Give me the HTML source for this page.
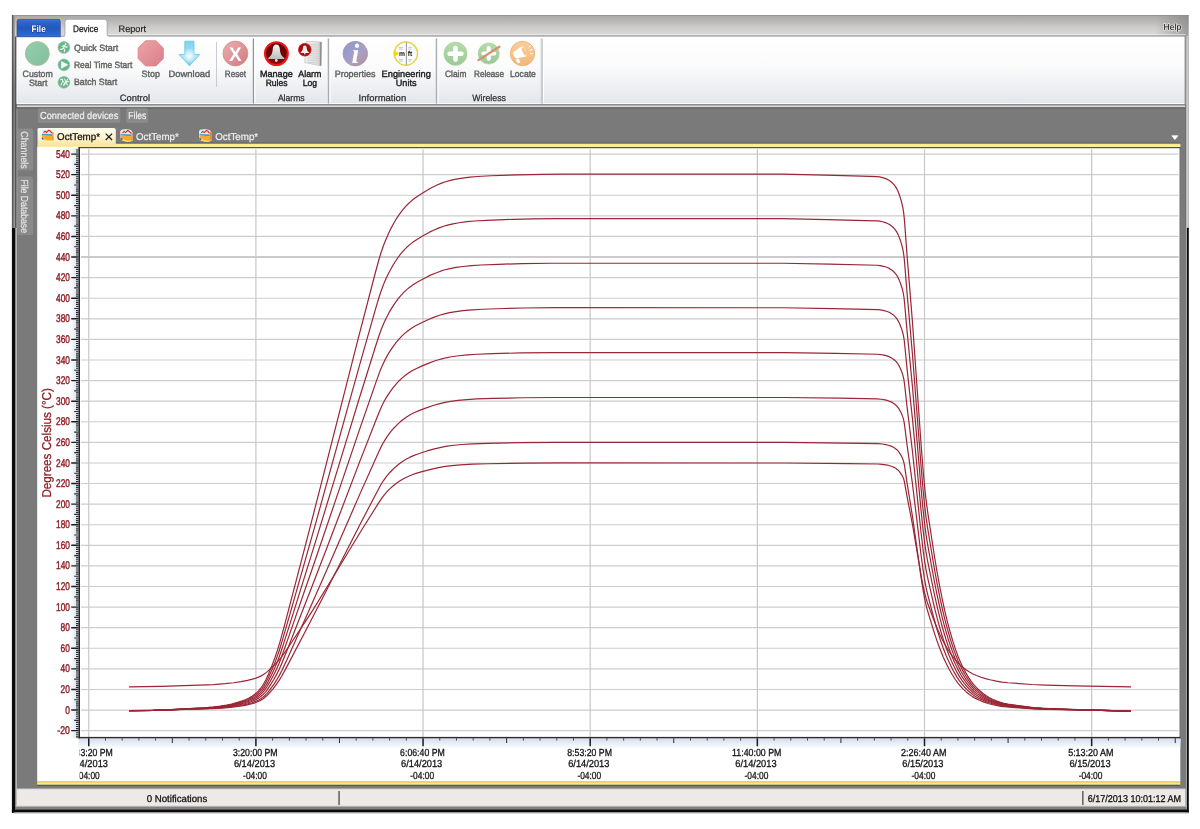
<!DOCTYPE html>
<html lang="en">
<head>
<meta charset="utf-8">
<title>OctTemp - Device</title>
<style>
html,body{margin:0;padding:0;background:#fff;}
body{width:1200px;height:829px;overflow:hidden;font-family:'Liberation Sans', sans-serif;}
svg{display:block;}
svg text{font-family:'Liberation Sans', sans-serif;text-rendering:geometricPrecision;}
</style>
</head>
<body>
<svg width="1200" height="829" viewBox="0 0 1200 829">
<defs>
<linearGradient id="gTitle" x1="0" y1="0" x2="0" y2="1"><stop offset="0" stop-color="#a9a7a5"/><stop offset="0.55" stop-color="#cfcdcb"/><stop offset="1" stop-color="#e3e1df"/></linearGradient>
<linearGradient id="gTitleR" x1="0" y1="0" x2="1" y2="0"><stop offset="0" stop-color="#8a8886" stop-opacity="0"/><stop offset="1" stop-color="#8a8886" stop-opacity="0.75"/></linearGradient>
<linearGradient id="gRibbon" x1="0" y1="0" x2="0" y2="1"><stop offset="0" stop-color="#ffffff"/><stop offset="0.45" stop-color="#fbfbfc"/><stop offset="1" stop-color="#e3e6eb"/></linearGradient>
<linearGradient id="gFile" x1="0" y1="0" x2="0" y2="1"><stop offset="0" stop-color="#3f7fe6"/><stop offset="0.12" stop-color="#2e69cf"/><stop offset="0.5" stop-color="#2258bb"/><stop offset="0.85" stop-color="#2a66cf"/><stop offset="1" stop-color="#2f72e0"/></linearGradient>
<linearGradient id="gFrameL" x1="0" y1="0" x2="1" y2="0"><stop offset="0" stop-color="#3e3e3e"/><stop offset="0.35" stop-color="#7c7a78"/><stop offset="1" stop-color="#aeacaa"/></linearGradient>
<linearGradient id="gFrameLV" x1="0" y1="0" x2="0" y2="1"><stop offset="0" stop-color="#000" stop-opacity="0"/><stop offset="0.3" stop-color="#000" stop-opacity="0.2"/><stop offset="1" stop-color="#000" stop-opacity="0.05"/></linearGradient>
<linearGradient id="gFrameR" x1="0" y1="0" x2="1" y2="0"><stop offset="0" stop-color="#e4e4e4"/><stop offset="0.6" stop-color="#c6c4c2"/><stop offset="1" stop-color="#a4a2a0"/></linearGradient>
<linearGradient id="gFrameLfade" x1="0" y1="0" x2="0" y2="1"><stop offset="0" stop-color="#0c0c0c" stop-opacity="0"/><stop offset="1" stop-color="#0c0c0c" stop-opacity="1"/></linearGradient>
<linearGradient id="gDocTab" x1="0" y1="0" x2="0" y2="1"><stop offset="0" stop-color="#fffdf2"/><stop offset="0.5" stop-color="#fdf3cf"/><stop offset="1" stop-color="#fbe296"/></linearGradient>
<linearGradient id="gAxisL" x1="0" y1="0" x2="1" y2="0"><stop offset="0" stop-color="#dfe5f2" stop-opacity="0"/><stop offset="1" stop-color="#cfd8ec" stop-opacity="1"/></linearGradient>
<linearGradient id="gAxisB" x1="0" y1="0" x2="0" y2="1"><stop offset="0" stop-color="#d3dbee" stop-opacity="1"/><stop offset="1" stop-color="#dfe5f2" stop-opacity="0"/></linearGradient>
<linearGradient id="gGreen" x1="0" y1="0" x2="1" y2="1"><stop offset="0" stop-color="#8fd0ab"/><stop offset="1" stop-color="#86bd9c"/></linearGradient>
<linearGradient id="gStop" x1="0" y1="0" x2="1" y2="1"><stop offset="0" stop-color="#eda3a8"/><stop offset="1" stop-color="#d97f88"/></linearGradient>
<linearGradient id="gReset" x1="0" y1="0" x2="1" y2="1"><stop offset="0" stop-color="#eeb0b2"/><stop offset="1" stop-color="#cf7980"/></linearGradient>
<linearGradient id="gDown" x1="0" y1="0" x2="0" y2="1"><stop offset="0" stop-color="#7fd3ee"/><stop offset="0.6" stop-color="#a8e3f6"/><stop offset="1" stop-color="#5cc3e8"/></linearGradient>
<radialGradient id="gDownGlow" cx="0.5" cy="0.62" r="0.35"><stop offset="0" stop-color="#ffffff" stop-opacity="0.95"/><stop offset="1" stop-color="#ffffff" stop-opacity="0"/></radialGradient>
<linearGradient id="gProp" x1="0" y1="0" x2="1" y2="1"><stop offset="0" stop-color="#8b98d2"/><stop offset="0.6" stop-color="#a7a0c4"/><stop offset="1" stop-color="#b98f96"/></linearGradient>
<linearGradient id="gBell" x1="0" y1="0" x2="0" y2="1"><stop offset="0" stop-color="#f4f4f4"/><stop offset="1" stop-color="#bdbdbd"/></linearGradient>
<linearGradient id="gAlarmBg" x1="0" y1="0" x2="0" y2="1"><stop offset="0" stop-color="#5a0000"/><stop offset="1" stop-color="#8a0a0a"/></linearGradient>
<linearGradient id="gDoc" x1="0" y1="0" x2="1" y2="0"><stop offset="0" stop-color="#f2f2f2"/><stop offset="0.8" stop-color="#e0e0e0"/><stop offset="1" stop-color="#9a9a9a"/></linearGradient>
<linearGradient id="gClaim" x1="0" y1="0" x2="0" y2="1"><stop offset="0" stop-color="#b4dca8"/><stop offset="1" stop-color="#9cc898"/></linearGradient>
<linearGradient id="gLocate" x1="0" y1="0" x2="0" y2="1"><stop offset="0" stop-color="#f8cf9c"/><stop offset="1" stop-color="#f2b878"/></linearGradient>
<clipPath id="clipX"><rect x="79.7" y="738" width="1102" height="44"/></clipPath>
<clipPath id="clipPlot"><rect x="79.8" y="148.3" width="1099.6" height="589"/></clipPath>
</defs>
<rect x="0" y="0" width="1200" height="829" fill="#ffffff"/>
<rect x="12.0" y="15.0" width="1176.6" height="24" fill="url(#gTitle)"/>
<rect x="1155" y="15.0" width="33.59999999999991" height="21.5" fill="url(#gTitleR)"/>
<rect x="107" y="34.3" width="1078.5" height="1.1" fill="#f2f1f0" opacity="0.9"/>
<rect x="12.0" y="15.0" width="1176.6" height="1" fill="#8e8c8a" opacity="0.7"/>
<rect x="16" y="104" width="1170" height="706" fill="#7a7a7a"/>
<rect x="16.5" y="36.3" width="1169" height="67.7" fill="url(#gRibbon)"/>
<rect x="106.5" y="35.4" width="1079.5" height="1.1" fill="#8d9096"/>
<rect x="16.5" y="35.9" width="49" height="1" fill="#8d9096"/>
<rect x="16.5" y="103.0" width="1169" height="1.2" fill="#fbfbfb"/>
<rect x="16.5" y="104.2" width="1169" height="1.3" fill="#8e8e8e"/>
<rect x="16.5" y="105.5" width="1169" height="1.7" fill="#dcdcdc"/>
<rect x="16.5" y="107.2" width="1169" height="1.6" fill="#696969"/>
<rect x="1184.6" y="36" width="0.9" height="68" fill="#8a8e94"/>
<rect x="253.00" y="38.5" width="1.1" height="65" fill="#8d9198"/>
<rect x="254.20" y="38.5" width="1.2" height="65" fill="#ffffff"/>
<rect x="251.80" y="38.5" width="1.2" height="65" fill="#dcdfe4" opacity="0.8"/>
<rect x="328.20" y="38.5" width="1.1" height="65" fill="#8d9198"/>
<rect x="329.40" y="38.5" width="1.2" height="65" fill="#ffffff"/>
<rect x="327.00" y="38.5" width="1.2" height="65" fill="#dcdfe4" opacity="0.8"/>
<rect x="436.20" y="38.5" width="1.1" height="65" fill="#8d9198"/>
<rect x="437.40" y="38.5" width="1.2" height="65" fill="#ffffff"/>
<rect x="435.00" y="38.5" width="1.2" height="65" fill="#dcdfe4" opacity="0.8"/>
<rect x="541.50" y="38.5" width="1.1" height="65" fill="#8d9198"/>
<rect x="542.70" y="38.5" width="1.2" height="65" fill="#ffffff"/>
<rect x="540.30" y="38.5" width="1.2" height="65" fill="#dcdfe4" opacity="0.8"/>
<rect x="216" y="42" width="0.9" height="45" fill="#c3c7cd"/>
<path d="M16.8,36.8 V21.3 Q16.8,19 19.1,19 H58.2 Q60.5,19 60.5,21.3 V36.8 Z" fill="url(#gFile)" stroke="#1b3f97" stroke-width="0.6"/>
<path d="M16.3,36.8 V21 Q16.3,18.4 19,18.4 H58.4 Q61.1,18.4 61.1,21 V36.8" fill="none" stroke="#e6cf9a" stroke-width="0.5" opacity="0.9"/>
<text x="31.60" y="32.00" font-size="9.4" textLength="14.10" lengthAdjust="spacingAndGlyphs" font-weight="bold" fill="#ffffff" stroke="#16348f" stroke-width="1.3" stroke-opacity="0.7" stroke-linejoin="round" paint-order="stroke">File</text>
<path d="M62.2,36.6 H64 Q65.2,36.6 65.2,35 V22 Q65.2,19.5 67.7,19.5 H104.4 Q106.9,19.5 106.9,22 V34.8 Q106.9,36.2 108.4,36.2 V37.2 H62.2 Z" fill="#ffffff"/>
<path d="M62.2,36.1 H63.8 Q64.9,36.1 64.9,34.8 V22 Q64.9,19.2 67.7,19.2 H104.4 Q107.2,19.2 107.2,22 V34.5 Q107.2,35.9 108.6,35.9" fill="none" stroke="#9fa3a8" stroke-width="0.8"/>
<text x="73.00" y="32.00" font-size="9.4" textLength="25.30" lengthAdjust="spacingAndGlyphs" fill="#1a1a1a" stroke="#1a1a1a" stroke-width="0.25">Device</text>
<text x="118.50" y="32.00" font-size="9.4" textLength="27.60" lengthAdjust="spacingAndGlyphs" fill="#1a1a1a" stroke="#1a1a1a" stroke-width="0.15">Report</text>
<text x="1163.50" y="29.80" font-size="8.9" textLength="17.80" lengthAdjust="spacingAndGlyphs" fill="#111" stroke="#ffffff" stroke-width="1.6" stroke-opacity="0.55" stroke-linejoin="round" paint-order="stroke">Help</text>
<text x="22.60" y="76.50" font-size="9.2" textLength="30.10" lengthAdjust="spacingAndGlyphs" fill="#5f5f5f" stroke="#5f5f5f" stroke-width="0.4">Custom</text>
<text x="28.90" y="85.60" font-size="9.2" textLength="18.50" lengthAdjust="spacingAndGlyphs" fill="#5f5f5f" stroke="#5f5f5f" stroke-width="0.4">Start</text>
<text x="74.00" y="50.80" font-size="9.2" textLength="44.20" lengthAdjust="spacingAndGlyphs" fill="#5f5f5f" stroke="#5f5f5f" stroke-width="0.4">Quick Start</text>
<text x="74.00" y="68.00" font-size="9.2" textLength="58.40" lengthAdjust="spacingAndGlyphs" fill="#5f5f5f" stroke="#5f5f5f" stroke-width="0.4">Real Time Start</text>
<text x="74.00" y="85.35" font-size="9.2" textLength="43.30" lengthAdjust="spacingAndGlyphs" fill="#5f5f5f" stroke="#5f5f5f" stroke-width="0.4">Batch Start</text>
<text x="141.60" y="76.50" font-size="9.2" textLength="18.40" lengthAdjust="spacingAndGlyphs" fill="#5f5f5f" stroke="#5f5f5f" stroke-width="0.4">Stop</text>
<text x="168.60" y="76.50" font-size="9.2" textLength="41.70" lengthAdjust="spacingAndGlyphs" fill="#5f5f5f" stroke="#5f5f5f" stroke-width="0.4">Download</text>
<text x="224.80" y="76.50" font-size="9.2" textLength="21.20" lengthAdjust="spacingAndGlyphs" fill="#5f5f5f" stroke="#5f5f5f" stroke-width="0.4">Reset</text>
<text x="260.00" y="76.50" font-size="9.2" textLength="32.70" lengthAdjust="spacingAndGlyphs" fill="#1c1c1c" stroke="#1c1c1c" stroke-width="0.4">Manage</text>
<text x="265.70" y="85.60" font-size="9.2" textLength="21.70" lengthAdjust="spacingAndGlyphs" fill="#1c1c1c" stroke="#1c1c1c" stroke-width="0.4">Rules</text>
<text x="298.30" y="76.50" font-size="9.2" textLength="23.00" lengthAdjust="spacingAndGlyphs" fill="#1c1c1c" stroke="#1c1c1c" stroke-width="0.4">Alarm</text>
<text x="302.70" y="85.60" font-size="9.2" textLength="14.50" lengthAdjust="spacingAndGlyphs" fill="#1c1c1c" stroke="#1c1c1c" stroke-width="0.4">Log</text>
<text x="334.70" y="76.50" font-size="9.2" textLength="40.80" lengthAdjust="spacingAndGlyphs" fill="#5f5f5f" stroke="#5f5f5f" stroke-width="0.4">Properties</text>
<text x="381.60" y="76.50" font-size="9.2" textLength="49.30" lengthAdjust="spacingAndGlyphs" fill="#1c1c1c" stroke="#1c1c1c" stroke-width="0.4">Engineering</text>
<text x="395.80" y="85.60" font-size="9.2" textLength="20.70" lengthAdjust="spacingAndGlyphs" fill="#1c1c1c" stroke="#1c1c1c" stroke-width="0.4">Units</text>
<text x="445.00" y="76.50" font-size="9.2" textLength="21.40" lengthAdjust="spacingAndGlyphs" fill="#5f5f5f" stroke="#5f5f5f" stroke-width="0.4">Claim</text>
<text x="474.00" y="76.50" font-size="9.2" textLength="30.00" lengthAdjust="spacingAndGlyphs" fill="#5f5f5f" stroke="#5f5f5f" stroke-width="0.4">Release</text>
<text x="510.10" y="76.50" font-size="9.2" textLength="25.70" lengthAdjust="spacingAndGlyphs" fill="#5f5f5f" stroke="#5f5f5f" stroke-width="0.4">Locate</text>
<text x="119.80" y="101.00" font-size="9.2" textLength="30.20" lengthAdjust="spacingAndGlyphs" fill="#2e2e2e" stroke="#2e2e2e" stroke-width="0.25">Control</text>
<text x="277.90" y="101.00" font-size="9.2" textLength="26.70" lengthAdjust="spacingAndGlyphs" fill="#2e2e2e" stroke="#2e2e2e" stroke-width="0.25">Alarms</text>
<text x="358.60" y="101.00" font-size="9.2" textLength="47.60" lengthAdjust="spacingAndGlyphs" fill="#2e2e2e" stroke="#2e2e2e" stroke-width="0.25">Information</text>
<text x="472.30" y="101.00" font-size="9.2" textLength="33.70" lengthAdjust="spacingAndGlyphs" fill="#2e2e2e" stroke="#2e2e2e" stroke-width="0.25">Wireless</text>
<circle cx="37.3" cy="53.6" r="12.0" fill="url(#gGreen)" stroke="#a9b896" stroke-width="0.7"/>
<circle cx="63.9" cy="47.5" r="5.9" fill="#69b58a" stroke="#8cc7a2" stroke-width="0.7"/>
<circle cx="63.9" cy="64.85" r="5.9" fill="#69b58a" stroke="#8cc7a2" stroke-width="0.7"/>
<circle cx="63.9" cy="82.3" r="5.9" fill="#69b58a" stroke="#8cc7a2" stroke-width="0.7"/>
<g fill="none" stroke="#ffffff" stroke-width="1.1" stroke-linecap="round" stroke-linejoin="round"><circle cx="65.6" cy="44.2" r="0.9" fill="#fff" stroke="none"/><path d="M64.9,45.8 L63.4,48.2 L64.8,49.8 L64.2,51.8"/><path d="M63.4,48.2 L61.6,49.4 L60.4,49.2"/><path d="M62.2,46.2 L64.3,45.6 L66.2,47.2 L67.3,46.8"/></g>
<path d="M61.4,61.4 L67.9,64.85 L61.4,68.3 Z" fill="#ffffff" stroke="#ffffff" stroke-width="0.5" stroke-linejoin="round"/>
<g fill="none" stroke="#ffffff" stroke-width="1.0" stroke-linecap="round" stroke-linejoin="round" opacity="0.95"><path d="M60.6,79.6 L62.4,79 L62.8,81 L61,85.2"/><path d="M62.8,81 L64.6,83 L63.4,85.4"/><path d="M64.6,79 L67.4,85"/><path d="M67.6,79.2 L64.4,85.2"/><path d="M66.2,82 L68.4,81.6"/></g>
<polygon points="145.53,40.70 155.97,40.70 163.35,48.08 163.35,58.52 155.97,65.90 145.53,65.90 138.15,58.52 138.15,48.08" fill="url(#gStop)" stroke="#e17c88" stroke-width="0.8" stroke-linejoin="round"/>
<path d="M184.8,41.2 H194 V54.5 H199.8 L189.45,65.8 L179,54.5 H184.8 Z" fill="url(#gDown)" stroke="#62c8ea" stroke-width="0.8" stroke-linejoin="round"/>
<path d="M184.8,41.2 H194 V54.5 H199.8 L189.45,65.8 L179,54.5 H184.8 Z" fill="url(#gDownGlow)"/>
<circle cx="235.4" cy="53.5" r="12.4" fill="url(#gReset)" stroke="#cf8a80" stroke-width="0.8"/>
<text x="235.30" y="60.90" font-size="19.5" text-anchor="middle" textLength="12.60" lengthAdjust="spacingAndGlyphs" font-weight="bold" fill="#ffffff">X</text>
<circle cx="276.4" cy="53.6" r="11.4" fill="url(#gAlarmBg)" stroke="#f01414" stroke-width="2.1"/>
<path d="M276.3,44.6 C278.6,44.6 279.6,46.3 279.8,48.6 C280.1,52.6 280.6,55.6 284.3,58.1 V58.9 H268.3 V58.1 C272,55.6 272.5,52.6 272.8,48.6 C273,46.3 274,44.6 276.3,44.6 Z" fill="url(#gBell)"/>
<circle cx="276.3" cy="60.4" r="1.35" fill="#f2f2f2"/>
<path d="M306,41.4 L321.6,42 L321.2,65.8 L304.8,62.6 Z" fill="url(#gDoc)" stroke="#b4b4b4" stroke-width="0.6" stroke-linejoin="round"/>
<path d="M307.2,44.20 L319.6,45.10" stroke="#c6c6c6" stroke-width="0.7" fill="none"/>
<path d="M307.2,46.45 L319.6,47.35" stroke="#c6c6c6" stroke-width="0.7" fill="none"/>
<path d="M307.2,48.70 L319.6,49.60" stroke="#c6c6c6" stroke-width="0.7" fill="none"/>
<path d="M307.2,50.95 L319.6,51.85" stroke="#c6c6c6" stroke-width="0.7" fill="none"/>
<path d="M307.2,53.20 L319.6,54.10" stroke="#c6c6c6" stroke-width="0.7" fill="none"/>
<path d="M307.2,55.45 L319.6,56.35" stroke="#c6c6c6" stroke-width="0.7" fill="none"/>
<path d="M307.2,57.70 L319.6,58.60" stroke="#c6c6c6" stroke-width="0.7" fill="none"/>
<path d="M307.2,59.95 L319.6,60.85" stroke="#c6c6c6" stroke-width="0.7" fill="none"/>
<path d="M307.2,62.20 L319.6,63.10" stroke="#c6c6c6" stroke-width="0.7" fill="none"/>
<path d="M320.9,42.2 L320.5,65.4" stroke="#8a8a8a" stroke-width="1.1" fill="none"/>
<circle cx="304.8" cy="49.7" r="6.3" fill="#a80c0c" stroke="#c81818" stroke-width="0.8"/>
<path d="M304.8,45.4 C306,45.4 306.5,46.3 306.6,47.5 C306.8,49.6 307,51 308.9,52.3 V52.9 H300.7 V52.3 C302.6,51 302.8,49.6 303,47.5 C303.1,46.3 303.6,45.4 304.8,45.4 Z" fill="#f0f0f0"/>
<circle cx="304.8" cy="53.7" r="0.8" fill="#f0f0f0"/>
<circle cx="355.3" cy="53.6" r="12.3" fill="url(#gProp)" stroke="#a890a8" stroke-width="0.7"/>
<text x="355.5" y="62.9" font-size="28" font-style="italic" font-weight="bold" text-anchor="middle" fill="#ffffff" style="font-family:'Liberation Serif',serif">i</text>
<circle cx="405.9" cy="53.6" r="11.6" fill="#fbfbfd" stroke="#e4d648" stroke-width="1.5"/>
<path d="M406.4,42.4 V64.8" stroke="#8c8c8c" stroke-width="0.9"/>
<path d="M393.9,50.5 L399.2,53.6 L393.9,56.8 Z" fill="#f5d200"/>
<path d="M398.6,47.6h4.6M399.2,49.2h3.4M408.4,47.6h3.6M408.4,49.2h3" stroke="#b4bace" stroke-width="0.8" fill="none"/>
<text x="399.00" y="55.60" font-size="7.2" textLength="6.00" lengthAdjust="spacingAndGlyphs" font-weight="bold" fill="#111">m</text>
<text x="407.80" y="55.60" font-size="7.2" textLength="4.50" lengthAdjust="spacingAndGlyphs" font-weight="bold" fill="#111">ft</text>
<path d="M398.8,59.6h4.2M399.4,61.2h3.2M408.4,59.6h3.4M408.4,61.2h2.8" stroke="#b4bace" stroke-width="0.8" fill="none"/>
<circle cx="455.5" cy="53.7" r="11.6" fill="url(#gClaim)" stroke="#a6d09e" stroke-width="0.6"/>
<path d="M449.6,53.7 H461.4 M455.5,47.8 V59.6" stroke="#ffffff" stroke-width="4.6" stroke-linecap="round" fill="none"/>
<circle cx="488.75" cy="53.5" r="10.6" fill="url(#gClaim)" stroke="#a6d09e" stroke-width="0.6"/>
<path d="M483.4,53.5 H494.1 M488.75,48.2 V58.8" stroke="#ffffff" stroke-width="4.2" stroke-linecap="round" fill="none"/>
<path d="M477.6,60.6 L500.2,46.2" stroke="#d9906f" stroke-width="2.3" fill="none"/>
<circle cx="522.5" cy="53.5" r="12.2" fill="url(#gLocate)" stroke="#f0b070" stroke-width="0.8"/>
<g fill="#ffffff" stroke="none"><path d="M513.2,52.2 L521.6,46.4 C523.4,45.4 527.2,52.8 526.2,56.4 L516.4,58.4 C514.6,57.6 513,54.6 513.2,52.2 Z"/><path d="M515.6,59.4 L518.8,58.8 L520.4,62.4 L517.8,63.2 Z"/></g>
<ellipse cx="524" cy="51.4" rx="1.5" ry="4.4" transform="rotate(-24 524 51.4)" fill="#f5c48e"/>
<path d="M528.6,47.4 L530.6,45.6 M529.8,50.4 L532.2,49.4 M530.2,53.6 L532.6,53.8" stroke="#ffffff" stroke-width="0.9" stroke-linecap="round"/>
<rect x="37.8" y="108.3" width="82.6" height="14.8" rx="1.5" fill="#8a8a8a"/>
<rect x="126.2" y="108.3" width="21.8" height="14.8" rx="1.5" fill="#8a8a8a"/>
<text x="40.00" y="118.70" font-size="10.2" textLength="78.30" lengthAdjust="spacingAndGlyphs" fill="#f0f0f0" stroke="#f0f0f0" stroke-width="0.2">Connected devices</text>
<text x="128.30" y="118.70" font-size="10.2" textLength="18.00" lengthAdjust="spacingAndGlyphs" fill="#f0f0f0" stroke="#f0f0f0" stroke-width="0.2">Files</text>
<rect x="17.2" y="128.4" width="15.8" height="42.2" rx="1.5" fill="#8a8a8a"/>
<rect x="17.2" y="176.5" width="15.8" height="58.4" rx="1.5" fill="#8a8a8a"/>
<text transform="translate(21.4,131.2) rotate(90)" font-size="10.2" stroke="#e6e6e6" stroke-width="0.2" textLength="37.6" lengthAdjust="spacingAndGlyphs" fill="#e2e2e2">Channels</text>
<text transform="translate(21.4,179.4) rotate(90)" font-size="10.2" stroke="#e6e6e6" stroke-width="0.2" textLength="53.6" lengthAdjust="spacingAndGlyphs" fill="#e2e2e2">File Database</text>
<rect x="37.2" y="142.6" width="1143.2" height="1.3" fill="#565c78"/>
<rect x="37.2" y="143.7" width="1143.2" height="3.5" fill="#fbf087"/>
<path d="M37.2,146.8 V130 Q37.2,128 39.2,128 H113.8 Q115.8,128 115.8,130 V146.8 Z" fill="url(#gDocTab)"/>
<rect x="36.6" y="129.5" width="0.8" height="17.5" fill="#4f5877" opacity="0.8"/>
<g transform="translate(41.30,129.00)"><path d="M1.2,0.6 Q6,-0.6 10.6,0.8 L12.2,3 L12.4,11.6 Q7,13.4 1.6,11.4 L0.2,9.8 L0,2.4 Z" fill="#fdfdfd" opacity="0.95"/><path d="M0.8,1 Q6,-0.2 10.8,1.2 L11.6,5.6 L0.4,5.2 Z" fill="#d6f0f6"/><path d="M2.2,3.6 L3.8,2.2 L5.2,3.4 L7.4,1.2 L8.8,2 L10.6,4.2" fill="none" stroke="#e81c1c" stroke-width="1.1"/><path d="M0.5,4.8 L10.8,5.2 L10.8,7 L0.5,6.4 Z" fill="#4a8ee0"/><path d="M0.4,6.2 L11,7 L12,11.2 Q7,12.8 2,11 Z" fill="#f7a92a"/><path d="M2.6,9.6 Q6,11.8 10.6,11.4 L10.8,12 Q6,13 2.2,11.2 Z" fill="#f3e05a"/><path d="M0.6,8 L2.4,10.6 L1.4,10.8 L0.4,9.6 Z" fill="#1f3a9a"/><path d="M10.9,2.4 L12.2,3.4 L12.3,11.2 L11.2,11.4 Z" fill="#d98a2a"/></g>
<text x="57.10" y="139.60" font-size="9.9" textLength="42.90" lengthAdjust="spacingAndGlyphs" fill="#151515" stroke="#151515" stroke-width="0.3">OctTemp*</text>
<path d="M105.7,133.6 L112.1,140 M112.1,133.6 L105.7,140" stroke="#151515" stroke-width="1.15" fill="none"/>
<g transform="translate(120.30,129.20)"><path d="M1.2,0.6 Q6,-0.6 10.6,0.8 L12.2,3 L12.4,11.6 Q7,13.4 1.6,11.4 L0.2,9.8 L0,2.4 Z" fill="#fdfdfd" opacity="0.95"/><path d="M0.8,1 Q6,-0.2 10.8,1.2 L11.6,5.6 L0.4,5.2 Z" fill="#d6f0f6"/><path d="M2.2,3.6 L3.8,2.2 L5.2,3.4 L7.4,1.2 L8.8,2 L10.6,4.2" fill="none" stroke="#e81c1c" stroke-width="1.1"/><path d="M0.5,4.8 L10.8,5.2 L10.8,7 L0.5,6.4 Z" fill="#4a8ee0"/><path d="M0.4,6.2 L11,7 L12,11.2 Q7,12.8 2,11 Z" fill="#f7a92a"/><path d="M2.6,9.6 Q6,11.8 10.6,11.4 L10.8,12 Q6,13 2.2,11.2 Z" fill="#f3e05a"/><path d="M0.6,8 L2.4,10.6 L1.4,10.8 L0.4,9.6 Z" fill="#1f3a9a"/><path d="M10.9,2.4 L12.2,3.4 L12.3,11.2 L11.2,11.4 Z" fill="#d98a2a"/></g>
<text x="136.00" y="139.60" font-size="9.9" textLength="42.70" lengthAdjust="spacingAndGlyphs" fill="#f0f0f0" stroke="#f0f0f0" stroke-width="0.2">OctTemp*</text>
<g transform="translate(199.00,129.20)"><path d="M1.2,0.6 Q6,-0.6 10.6,0.8 L12.2,3 L12.4,11.6 Q7,13.4 1.6,11.4 L0.2,9.8 L0,2.4 Z" fill="#fdfdfd" opacity="0.95"/><path d="M0.8,1 Q6,-0.2 10.8,1.2 L11.6,5.6 L0.4,5.2 Z" fill="#d6f0f6"/><path d="M2.2,3.6 L3.8,2.2 L5.2,3.4 L7.4,1.2 L8.8,2 L10.6,4.2" fill="none" stroke="#e81c1c" stroke-width="1.1"/><path d="M0.5,4.8 L10.8,5.2 L10.8,7 L0.5,6.4 Z" fill="#4a8ee0"/><path d="M0.4,6.2 L11,7 L12,11.2 Q7,12.8 2,11 Z" fill="#f7a92a"/><path d="M2.6,9.6 Q6,11.8 10.6,11.4 L10.8,12 Q6,13 2.2,11.2 Z" fill="#f3e05a"/><path d="M0.6,8 L2.4,10.6 L1.4,10.8 L0.4,9.6 Z" fill="#1f3a9a"/><path d="M10.9,2.4 L12.2,3.4 L12.3,11.2 L11.2,11.4 Z" fill="#d98a2a"/></g>
<text x="215.20" y="139.60" font-size="9.9" textLength="43.00" lengthAdjust="spacingAndGlyphs" fill="#f0f0f0" stroke="#f0f0f0" stroke-width="0.2">OctTemp*</text>
<path d="M1171.6,135.9 H1178.2 L1174.9,139.9 Z" fill="#ffffff"/>
<rect x="1171.6" y="135.2" width="6.6" height="0.9" fill="#e8e8e8"/>
<rect x="16.5" y="788.7" width="1169" height="1.0" fill="#ffffff"/>
<rect x="16.5" y="789.6" width="1169" height="16.3" fill="#ece9e6"/>
<rect x="338.4" y="791" width="1.3" height="14" fill="#4c4c4c"/>
<rect x="1082.2" y="791" width="1.3" height="14" fill="#4c4c4c"/>
<text x="146.70" y="801.70" font-size="9.9" textLength="60.60" lengthAdjust="spacingAndGlyphs" fill="#141414" stroke="#141414" stroke-width="0.3">0 Notifications</text>
<text x="1087.80" y="801.70" font-size="9.9" textLength="93.20" lengthAdjust="spacingAndGlyphs" fill="#141414" stroke="#141414" stroke-width="0.3">6/17/2013 10:01:12 AM</text>
<rect x="37.2" y="146.8" width="1143.1" height="634.8" fill="#ffffff"/>
<rect x="37.2" y="781.5" width="1143.1" height="1.6" fill="#fad265"/>
<rect x="37.2" y="783.0" width="1143.1" height="1.9" fill="#f8ea8c"/>
<rect x="37.2" y="784.8" width="1143.1" height="1.1" fill="#465170"/>
<rect x="69.5" y="148.2" width="9" height="590.3000000000001" fill="url(#gAxisL)"/>
<rect x="78.4" y="738.2" width="1102.4" height="11.5" fill="url(#gAxisB)"/>
<path d="M81.0,730.64H1178.6M81.0,710.05H1178.6M81.0,689.46H1178.6M81.0,668.87H1178.6M81.0,648.28H1178.6M81.0,627.68H1178.6M81.0,607.09H1178.6M81.0,586.50H1178.6M81.0,565.91H1178.6M81.0,545.32H1178.6M81.0,524.73H1178.6M81.0,504.13H1178.6M81.0,483.54H1178.6M81.0,462.95H1178.6M81.0,442.36H1178.6M81.0,421.77H1178.6M81.0,401.18H1178.6M81.0,380.58H1178.6M81.0,359.99H1178.6M81.0,339.40H1178.6M81.0,318.81H1178.6M81.0,298.22H1178.6M81.0,277.63H1178.6M81.0,257.03H1178.6M81.0,236.44H1178.6M81.0,215.85H1178.6M81.0,195.26H1178.6M81.0,174.67H1178.6M81.0,154.08H1178.6" stroke="#cdcdcd" stroke-width="1.15" fill="none"/>
<path d="M81.0,256.93H1178.6" stroke="#cbcbcb" stroke-width="1.9" fill="none"/>
<path d="M88.75,149.2V737.1M255.90,149.2V737.1M423.05,149.2V737.1M590.20,149.2V737.1M757.35,149.2V737.1M924.50,149.2V737.1M1091.65,149.2V737.1" stroke="#c8c8c8" stroke-width="1.2" fill="none"/>
<path d="M76.0,736.82H78.6M76.0,734.76H78.6M76.0,732.70H78.6M76.0,728.58H78.6M76.0,726.52H78.6M76.0,724.46H78.6M76.0,722.40H78.6M76.0,718.29H78.6M76.0,716.23H78.6M76.0,714.17H78.6M76.0,712.11H78.6M76.0,707.99H78.6M76.0,705.93H78.6M76.0,703.87H78.6M76.0,701.81H78.6M76.0,697.70H78.6M76.0,695.64H78.6M76.0,693.58H78.6M76.0,691.52H78.6M76.0,687.40H78.6M76.0,685.34H78.6M76.0,683.28H78.6M76.0,681.22H78.6M76.0,677.10H78.6M76.0,675.04H78.6M76.0,672.99H78.6M76.0,670.93H78.6M76.0,666.81H78.6M76.0,664.75H78.6M76.0,662.69H78.6M76.0,660.63H78.6M76.0,656.51H78.6M76.0,654.45H78.6M76.0,652.39H78.6M76.0,650.33H78.6M76.0,646.22H78.6M76.0,644.16H78.6M76.0,642.10H78.6M76.0,640.04H78.6M76.0,635.92H78.6M76.0,633.86H78.6M76.0,631.80H78.6M76.0,629.74H78.6M76.0,625.62H78.6M76.0,623.57H78.6M76.0,621.51H78.6M76.0,619.45H78.6M76.0,615.33H78.6M76.0,613.27H78.6M76.0,611.21H78.6M76.0,609.15H78.6M76.0,605.03H78.6M76.0,602.97H78.6M76.0,600.91H78.6M76.0,598.86H78.6M76.0,594.74H78.6M76.0,592.68H78.6M76.0,590.62H78.6M76.0,588.56H78.6M76.0,584.44H78.6M76.0,582.38H78.6M76.0,580.32H78.6M76.0,578.26H78.6M76.0,574.15H78.6M76.0,572.09H78.6M76.0,570.03H78.6M76.0,567.97H78.6M76.0,563.85H78.6M76.0,561.79H78.6M76.0,559.73H78.6M76.0,557.67H78.6M76.0,553.55H78.6M76.0,551.49H78.6M76.0,549.44H78.6M76.0,547.38H78.6M76.0,543.26H78.6M76.0,541.20H78.6M76.0,539.14H78.6M76.0,537.08H78.6M76.0,532.96H78.6M76.0,530.90H78.6M76.0,528.84H78.6M76.0,526.78H78.6M76.0,522.67H78.6M76.0,520.61H78.6M76.0,518.55H78.6M76.0,516.49H78.6M76.0,512.37H78.6M76.0,510.31H78.6M76.0,508.25H78.6M76.0,506.19H78.6M76.0,502.07H78.6M76.0,500.02H78.6M76.0,497.96H78.6M76.0,495.90H78.6M76.0,491.78H78.6M76.0,489.72H78.6M76.0,487.66H78.6M76.0,485.60H78.6M76.0,481.48H78.6M76.0,479.42H78.6M76.0,477.36H78.6M76.0,475.31H78.6M76.0,471.19H78.6M76.0,469.13H78.6M76.0,467.07H78.6M76.0,465.01H78.6M76.0,460.89H78.6M76.0,458.83H78.6M76.0,456.77H78.6M76.0,454.71H78.6M76.0,450.60H78.6M76.0,448.54H78.6M76.0,446.48H78.6M76.0,444.42H78.6M76.0,440.30H78.6M76.0,438.24H78.6M76.0,436.18H78.6M76.0,434.12H78.6M76.0,430.00H78.6M76.0,427.95H78.6M76.0,425.89H78.6M76.0,423.83H78.6M76.0,419.71H78.6M76.0,417.65H78.6M76.0,415.59H78.6M76.0,413.53H78.6M76.0,409.41H78.6M76.0,407.35H78.6M76.0,405.29H78.6M76.0,403.24H78.6M76.0,399.12H78.6M76.0,397.06H78.6M76.0,395.00H78.6M76.0,392.94H78.6M76.0,388.82H78.6M76.0,386.76H78.6M76.0,384.70H78.6M76.0,382.64H78.6M76.0,378.53H78.6M76.0,376.47H78.6M76.0,374.41H78.6M76.0,372.35H78.6M76.0,368.23H78.6M76.0,366.17H78.6M76.0,364.11H78.6M76.0,362.05H78.6M76.0,357.93H78.6M76.0,355.87H78.6M76.0,353.82H78.6M76.0,351.76H78.6M76.0,347.64H78.6M76.0,345.58H78.6M76.0,343.52H78.6M76.0,341.46H78.6M76.0,337.34H78.6M76.0,335.28H78.6M76.0,333.22H78.6M76.0,331.16H78.6M76.0,327.05H78.6M76.0,324.99H78.6M76.0,322.93H78.6M76.0,320.87H78.6M76.0,316.75H78.6M76.0,314.69H78.6M76.0,312.63H78.6M76.0,310.57H78.6M76.0,306.45H78.6M76.0,304.40H78.6M76.0,302.34H78.6M76.0,300.28H78.6M76.0,296.16H78.6M76.0,294.10H78.6M76.0,292.04H78.6M76.0,289.98H78.6M76.0,285.86H78.6M76.0,283.80H78.6M76.0,281.74H78.6M76.0,279.69H78.6M76.0,275.57H78.6M76.0,273.51H78.6M76.0,271.45H78.6M76.0,269.39H78.6M76.0,265.27H78.6M76.0,263.21H78.6M76.0,261.15H78.6M76.0,259.09H78.6M76.0,254.98H78.6M76.0,252.92H78.6M76.0,250.86H78.6M76.0,248.80H78.6M76.0,244.68H78.6M76.0,242.62H78.6M76.0,240.56H78.6M76.0,238.50H78.6M76.0,234.38H78.6M76.0,232.32H78.6M76.0,230.27H78.6M76.0,228.21H78.6M76.0,224.09H78.6M76.0,222.03H78.6M76.0,219.97H78.6M76.0,217.91H78.6M76.0,213.79H78.6M76.0,211.73H78.6M76.0,209.67H78.6M76.0,207.61H78.6M76.0,203.50H78.6M76.0,201.44H78.6M76.0,199.38H78.6M76.0,197.32H78.6M76.0,193.20H78.6M76.0,191.14H78.6M76.0,189.08H78.6M76.0,187.02H78.6M76.0,182.91H78.6M76.0,180.85H78.6M76.0,178.79H78.6M76.0,176.73H78.6M76.0,172.61H78.6M76.0,170.55H78.6M76.0,168.49H78.6M76.0,166.43H78.6M76.0,162.31H78.6M76.0,160.25H78.6M76.0,158.20H78.6M76.0,156.14H78.6M76.0,152.02H78.6M76.0,149.96H78.6" stroke="#2a2a2a" stroke-width="1.15" fill="none"/>
<path d="M74.2,720.35H78.6M74.2,699.75H78.6M74.2,679.16H78.6M74.2,658.57H78.6M74.2,637.98H78.6M74.2,617.39H78.6M74.2,596.80H78.6M74.2,576.20H78.6M74.2,555.61H78.6M74.2,535.02H78.6M74.2,514.43H78.6M74.2,493.84H78.6M74.2,473.25H78.6M74.2,452.65H78.6M74.2,432.06H78.6M74.2,411.47H78.6M74.2,390.88H78.6M74.2,370.29H78.6M74.2,349.70H78.6M74.2,329.11H78.6M74.2,308.51H78.6M74.2,287.92H78.6M74.2,267.33H78.6M74.2,246.74H78.6M74.2,226.15H78.6M74.2,205.56H78.6M74.2,184.96H78.6M74.2,164.37H78.6" stroke="#2a2a2a" stroke-width="1.15" fill="none"/>
<path d="M71.2,730.64H78.6M71.2,710.05H78.6M71.2,689.46H78.6M71.2,668.87H78.6M71.2,648.28H78.6M71.2,627.68H78.6M71.2,607.09H78.6M71.2,586.50H78.6M71.2,565.91H78.6M71.2,545.32H78.6M71.2,524.73H78.6M71.2,504.13H78.6M71.2,483.54H78.6M71.2,462.95H78.6M71.2,442.36H78.6M71.2,421.77H78.6M71.2,401.18H78.6M71.2,380.58H78.6M71.2,359.99H78.6M71.2,339.40H78.6M71.2,318.81H78.6M71.2,298.22H78.6M71.2,277.63H78.6M71.2,257.03H78.6M71.2,236.44H78.6M71.2,215.85H78.6M71.2,195.26H78.6M71.2,174.67H78.6M71.2,154.08H78.6" stroke="#1c1c1c" stroke-width="1.4" fill="none"/>
<path d="M105.47,738.2V740.6M122.18,738.2V740.6M138.90,738.2V740.6M155.61,738.2V740.6M189.04,738.2V740.6M205.75,738.2V740.6M222.47,738.2V740.6M239.19,738.2V740.6M272.62,738.2V740.6M289.33,738.2V740.6M306.05,738.2V740.6M322.76,738.2V740.6M356.19,738.2V740.6M372.91,738.2V740.6M389.62,738.2V740.6M406.33,738.2V740.6M439.76,738.2V740.6M456.48,738.2V740.6M473.20,738.2V740.6M489.91,738.2V740.6M523.34,738.2V740.6M540.06,738.2V740.6M556.77,738.2V740.6M573.49,738.2V740.6M606.92,738.2V740.6M623.63,738.2V740.6M640.35,738.2V740.6M657.06,738.2V740.6M690.49,738.2V740.6M707.21,738.2V740.6M723.92,738.2V740.6M740.63,738.2V740.6M774.07,738.2V740.6M790.78,738.2V740.6M807.50,738.2V740.6M824.21,738.2V740.6M857.64,738.2V740.6M874.36,738.2V740.6M891.07,738.2V740.6M907.79,738.2V740.6M941.21,738.2V740.6M957.93,738.2V740.6M974.65,738.2V740.6M991.36,738.2V740.6M1024.79,738.2V740.6M1041.51,738.2V740.6M1058.22,738.2V740.6M1074.93,738.2V740.6M1108.37,738.2V740.6M1125.08,738.2V740.6M1141.80,738.2V740.6M1158.51,738.2V740.6" stroke="#3a3a3a" stroke-width="0.9" fill="none"/>
<path d="M172.32,738.2V743M339.48,738.2V743M506.62,738.2V743M673.77,738.2V743M840.92,738.2V743M1008.08,738.2V743M1175.22,738.2V743" stroke="#2a2a2a" stroke-width="1.0" fill="none"/>
<path d="M88.75,738.2V746.2M255.90,738.2V746.2M423.05,738.2V746.2M590.20,738.2V746.2M757.35,738.2V746.2M924.50,738.2V746.2M1091.65,738.2V746.2" stroke="#1c1c1c" stroke-width="1.5" fill="none"/>
<rect x="78.5" y="147.3" width="1.5" height="591.0" fill="#262626"/>
<rect x="78.3" y="147.1" width="1102.1000000000001" height="1.1" fill="#3c3c3c"/>
<rect x="1179.6" y="147.3" width="0.9" height="591.2" fill="#4a4a4a"/>
<rect x="78.3" y="736.9" width="1102.1000000000001" height="1.4" fill="#2c2c2c"/>
<text x="57.30" y="734.19" font-size="11.2" textLength="12.60" lengthAdjust="spacingAndGlyphs" fill="#8c1b23" stroke="#8c1b23" stroke-width="0.4">-20</text>
<text x="65.20" y="713.60" font-size="11.2" textLength="4.70" lengthAdjust="spacingAndGlyphs" fill="#8c1b23" stroke="#8c1b23" stroke-width="0.4">0</text>
<text x="60.60" y="693.01" font-size="11.2" textLength="9.30" lengthAdjust="spacingAndGlyphs" fill="#8c1b23" stroke="#8c1b23" stroke-width="0.4">20</text>
<text x="60.60" y="672.42" font-size="11.2" textLength="9.30" lengthAdjust="spacingAndGlyphs" fill="#8c1b23" stroke="#8c1b23" stroke-width="0.4">40</text>
<text x="60.60" y="651.83" font-size="11.2" textLength="9.30" lengthAdjust="spacingAndGlyphs" fill="#8c1b23" stroke="#8c1b23" stroke-width="0.4">60</text>
<text x="60.60" y="631.23" font-size="11.2" textLength="9.30" lengthAdjust="spacingAndGlyphs" fill="#8c1b23" stroke="#8c1b23" stroke-width="0.4">80</text>
<text x="56.00" y="610.64" font-size="11.2" textLength="13.90" lengthAdjust="spacingAndGlyphs" fill="#8c1b23" stroke="#8c1b23" stroke-width="0.4">100</text>
<text x="56.00" y="590.05" font-size="11.2" textLength="13.90" lengthAdjust="spacingAndGlyphs" fill="#8c1b23" stroke="#8c1b23" stroke-width="0.4">120</text>
<text x="56.00" y="569.46" font-size="11.2" textLength="13.90" lengthAdjust="spacingAndGlyphs" fill="#8c1b23" stroke="#8c1b23" stroke-width="0.4">140</text>
<text x="56.00" y="548.87" font-size="11.2" textLength="13.90" lengthAdjust="spacingAndGlyphs" fill="#8c1b23" stroke="#8c1b23" stroke-width="0.4">160</text>
<text x="56.00" y="528.28" font-size="11.2" textLength="13.90" lengthAdjust="spacingAndGlyphs" fill="#8c1b23" stroke="#8c1b23" stroke-width="0.4">180</text>
<text x="56.00" y="507.68" font-size="11.2" textLength="13.90" lengthAdjust="spacingAndGlyphs" fill="#8c1b23" stroke="#8c1b23" stroke-width="0.4">200</text>
<text x="56.00" y="487.09" font-size="11.2" textLength="13.90" lengthAdjust="spacingAndGlyphs" fill="#8c1b23" stroke="#8c1b23" stroke-width="0.4">220</text>
<text x="56.00" y="466.50" font-size="11.2" textLength="13.90" lengthAdjust="spacingAndGlyphs" fill="#8c1b23" stroke="#8c1b23" stroke-width="0.4">240</text>
<text x="56.00" y="445.91" font-size="11.2" textLength="13.90" lengthAdjust="spacingAndGlyphs" fill="#8c1b23" stroke="#8c1b23" stroke-width="0.4">260</text>
<text x="56.00" y="425.32" font-size="11.2" textLength="13.90" lengthAdjust="spacingAndGlyphs" fill="#8c1b23" stroke="#8c1b23" stroke-width="0.4">280</text>
<text x="56.00" y="404.73" font-size="11.2" textLength="13.90" lengthAdjust="spacingAndGlyphs" fill="#8c1b23" stroke="#8c1b23" stroke-width="0.4">300</text>
<text x="56.00" y="384.13" font-size="11.2" textLength="13.90" lengthAdjust="spacingAndGlyphs" fill="#8c1b23" stroke="#8c1b23" stroke-width="0.4">320</text>
<text x="56.00" y="363.54" font-size="11.2" textLength="13.90" lengthAdjust="spacingAndGlyphs" fill="#8c1b23" stroke="#8c1b23" stroke-width="0.4">340</text>
<text x="56.00" y="342.95" font-size="11.2" textLength="13.90" lengthAdjust="spacingAndGlyphs" fill="#8c1b23" stroke="#8c1b23" stroke-width="0.4">360</text>
<text x="56.00" y="322.36" font-size="11.2" textLength="13.90" lengthAdjust="spacingAndGlyphs" fill="#8c1b23" stroke="#8c1b23" stroke-width="0.4">380</text>
<text x="56.00" y="301.77" font-size="11.2" textLength="13.90" lengthAdjust="spacingAndGlyphs" fill="#8c1b23" stroke="#8c1b23" stroke-width="0.4">400</text>
<text x="56.00" y="281.18" font-size="11.2" textLength="13.90" lengthAdjust="spacingAndGlyphs" fill="#8c1b23" stroke="#8c1b23" stroke-width="0.4">420</text>
<text x="56.00" y="260.58" font-size="11.2" textLength="13.90" lengthAdjust="spacingAndGlyphs" fill="#8c1b23" stroke="#8c1b23" stroke-width="0.4">440</text>
<text x="56.00" y="239.99" font-size="11.2" textLength="13.90" lengthAdjust="spacingAndGlyphs" fill="#8c1b23" stroke="#8c1b23" stroke-width="0.4">460</text>
<text x="56.00" y="219.40" font-size="11.2" textLength="13.90" lengthAdjust="spacingAndGlyphs" fill="#8c1b23" stroke="#8c1b23" stroke-width="0.4">480</text>
<text x="56.00" y="198.81" font-size="11.2" textLength="13.90" lengthAdjust="spacingAndGlyphs" fill="#8c1b23" stroke="#8c1b23" stroke-width="0.4">500</text>
<text x="56.00" y="178.22" font-size="11.2" textLength="13.90" lengthAdjust="spacingAndGlyphs" fill="#8c1b23" stroke="#8c1b23" stroke-width="0.4">520</text>
<text x="56.00" y="157.63" font-size="11.2" textLength="13.90" lengthAdjust="spacingAndGlyphs" fill="#8c1b23" stroke="#8c1b23" stroke-width="0.4">540</text>
<text transform="translate(50.9,497.6) rotate(-90)" font-size="12.8" textLength="109.5" lengthAdjust="spacingAndGlyphs" fill="#8c1b23" stroke="#8c1b23" stroke-width="0.25">Degrees Celsius (°C)</text>
<g clip-path="url(#clipX)">
<text x="63.45" y="755.50" font-size="10.2" textLength="49.40" lengthAdjust="spacingAndGlyphs" fill="#141414" stroke="#141414" stroke-width="0.3">12:33:20 PM</text>
<text x="66.75" y="767.30" font-size="10.2" textLength="41.20" lengthAdjust="spacingAndGlyphs" fill="#141414" stroke="#141414" stroke-width="0.3">6/14/2013</text>
<text x="75.95" y="779.20" font-size="10.2" textLength="23.80" lengthAdjust="spacingAndGlyphs" fill="#141414" stroke="#141414" stroke-width="0.3">-04:00</text>
<text x="232.95" y="755.50" font-size="10.2" textLength="44.70" lengthAdjust="spacingAndGlyphs" fill="#141414" stroke="#141414" stroke-width="0.3">3:20:00 PM</text>
<text x="233.90" y="767.30" font-size="10.2" textLength="41.20" lengthAdjust="spacingAndGlyphs" fill="#141414" stroke="#141414" stroke-width="0.3">6/14/2013</text>
<text x="243.10" y="779.20" font-size="10.2" textLength="23.80" lengthAdjust="spacingAndGlyphs" fill="#141414" stroke="#141414" stroke-width="0.3">-04:00</text>
<text x="400.10" y="755.50" font-size="10.2" textLength="44.70" lengthAdjust="spacingAndGlyphs" fill="#141414" stroke="#141414" stroke-width="0.3">6:06:40 PM</text>
<text x="401.05" y="767.30" font-size="10.2" textLength="41.20" lengthAdjust="spacingAndGlyphs" fill="#141414" stroke="#141414" stroke-width="0.3">6/14/2013</text>
<text x="410.25" y="779.20" font-size="10.2" textLength="23.80" lengthAdjust="spacingAndGlyphs" fill="#141414" stroke="#141414" stroke-width="0.3">-04:00</text>
<text x="567.25" y="755.50" font-size="10.2" textLength="44.70" lengthAdjust="spacingAndGlyphs" fill="#141414" stroke="#141414" stroke-width="0.3">8:53:20 PM</text>
<text x="568.20" y="767.30" font-size="10.2" textLength="41.20" lengthAdjust="spacingAndGlyphs" fill="#141414" stroke="#141414" stroke-width="0.3">6/14/2013</text>
<text x="577.40" y="779.20" font-size="10.2" textLength="23.80" lengthAdjust="spacingAndGlyphs" fill="#141414" stroke="#141414" stroke-width="0.3">-04:00</text>
<text x="732.05" y="755.50" font-size="10.2" textLength="49.40" lengthAdjust="spacingAndGlyphs" fill="#141414" stroke="#141414" stroke-width="0.3">11:40:00 PM</text>
<text x="735.35" y="767.30" font-size="10.2" textLength="41.20" lengthAdjust="spacingAndGlyphs" fill="#141414" stroke="#141414" stroke-width="0.3">6/14/2013</text>
<text x="744.55" y="779.20" font-size="10.2" textLength="23.80" lengthAdjust="spacingAndGlyphs" fill="#141414" stroke="#141414" stroke-width="0.3">-04:00</text>
<text x="901.00" y="755.50" font-size="10.2" textLength="45.40" lengthAdjust="spacingAndGlyphs" fill="#141414" stroke="#141414" stroke-width="0.3">2:26:40 AM</text>
<text x="902.30" y="767.30" font-size="10.2" textLength="41.20" lengthAdjust="spacingAndGlyphs" fill="#141414" stroke="#141414" stroke-width="0.3">6/15/2013</text>
<text x="911.50" y="779.20" font-size="10.2" textLength="23.80" lengthAdjust="spacingAndGlyphs" fill="#141414" stroke="#141414" stroke-width="0.3">-04:00</text>
<text x="1068.15" y="755.50" font-size="10.2" textLength="45.40" lengthAdjust="spacingAndGlyphs" fill="#141414" stroke="#141414" stroke-width="0.3">5:13:20 AM</text>
<text x="1069.45" y="767.30" font-size="10.2" textLength="41.20" lengthAdjust="spacingAndGlyphs" fill="#141414" stroke="#141414" stroke-width="0.3">6/15/2013</text>
<text x="1078.65" y="779.20" font-size="10.2" textLength="23.80" lengthAdjust="spacingAndGlyphs" fill="#141414" stroke="#141414" stroke-width="0.3">-04:00</text>
</g>
<path d="M129.0,710.56L152.5,710.30L165.5,709.79L203.0,707.77L213.0,706.99L220.0,706.15L226.5,705.11L231.5,704.04L237.5,702.43L242.5,700.84L246.0,699.45L249.0,698.01L252.0,696.27L254.5,694.51L256.5,692.83L258.5,690.84L260.5,688.51L262.5,685.76L264.0,683.31L266.0,679.46L268.5,673.94L272.0,665.52L275.0,657.56L277.5,650.16L280.0,641.86L285.5,621.62L306.5,541.05L323.0,476.95L358.5,337.29L375.0,273.99L379.0,259.27L381.0,252.72L383.5,245.53L386.0,239.16L388.5,233.47L391.0,228.36L394.0,222.81L397.0,217.80L399.5,214.05L402.5,210.06L405.5,206.56L408.5,203.51L411.5,200.83L415.0,198.08L419.5,194.97L427.5,189.94L431.5,187.68L436.5,185.25L441.5,183.12L445.5,181.72L450.5,180.34L456.0,179.14L462.5,178.07L470.0,177.13L477.5,176.50L491.0,175.76L517.0,174.78L542.0,174.30L562.0,174.15L782.0,174.19L825.0,175.08L861.5,176.13L877.0,176.61L879.5,176.89L882.5,177.56L885.0,178.34L887.5,179.41L889.0,180.27L891.0,181.74L892.5,183.06L894.0,184.67L895.5,186.67L897.0,189.18L898.0,191.30L899.5,195.24L901.0,200.09L902.0,203.93L903.0,208.65L903.5,211.66L904.0,215.58L904.5,220.84L907.0,254.72L910.5,297.85L912.5,322.81L921.0,443.42L923.0,469.02L924.5,485.63L926.0,499.45L927.5,510.83L934.0,553.48L937.0,571.55L940.0,587.96L942.5,600.42L945.0,611.76L947.5,622.12L950.0,631.51L953.0,641.67L955.5,649.38L958.0,656.28L960.5,662.33L963.0,667.65L965.5,672.39L968.5,677.41L971.0,681.15L973.5,684.42L976.0,687.17L979.5,690.51L983.0,693.44L986.0,695.60L989.0,697.42L993.0,699.44L997.0,701.15L1000.5,702.40L1004.0,703.37L1008.0,704.16L1015.0,705.14L1026.0,706.61L1033.0,707.50L1041.5,708.16L1054.0,708.76L1078.5,709.65L1103.0,710.29L1131.0,711.08" fill="none" stroke="#9a2635" stroke-width="1.2" stroke-linejoin="round"/>
<path d="M129.0,710.56L153.0,710.30L167.0,709.77L204.0,707.91L213.5,707.21L221.0,706.37L227.5,705.38L233.0,704.25L239.5,702.57L244.0,701.16L247.5,699.79L250.5,698.36L253.5,696.61L256.0,694.83L258.0,693.11L260.0,691.09L262.0,688.71L263.5,686.62L265.5,683.30L268.0,678.41L271.5,670.82L274.5,663.69L277.0,657.11L279.5,649.74L283.0,638.20L290.5,612.20L316.5,520.30L348.5,404.95L360.5,361.83L376.0,307.43L379.5,295.74L381.5,289.84L384.0,283.35L386.5,277.59L389.0,272.44L392.0,266.93L395.0,261.98L398.0,257.51L400.5,254.19L403.5,250.66L406.5,247.56L409.5,244.87L413.0,242.12L417.0,239.39L423.0,235.78L429.5,232.15L433.5,230.20L439.0,227.87L443.5,226.24L447.5,225.08L453.0,223.81L459.0,222.75L467.0,221.70L474.5,221.00L487.0,220.29L514.0,219.29L533.0,218.90L557.0,218.64L782.5,218.67L827.5,219.54L865.0,220.55L877.0,220.89L879.5,221.14L882.5,221.75L885.5,222.64L887.5,223.45L889.5,224.55L891.5,225.97L893.0,227.26L894.5,228.84L896.0,230.81L897.0,232.41L898.0,234.36L899.5,237.97L901.0,242.41L902.0,245.94L903.0,250.26L903.5,253.02L904.0,256.62L904.5,261.44L907.0,292.51L910.5,332.06L912.5,354.95L921.0,465.55L923.0,489.02L924.5,504.25L926.0,516.92L927.5,527.37L934.0,566.48L937.0,583.05L940.0,598.09L942.5,609.52L945.0,619.92L947.5,629.42L950.0,638.03L953.0,647.35L955.5,654.42L958.0,660.75L960.5,666.29L963.0,671.17L965.5,675.51L968.5,680.12L971.0,683.55L973.5,686.55L976.0,689.07L979.5,692.13L983.0,694.82L986.0,696.80L989.0,698.47L993.0,700.32L997.5,702.07L1001.5,703.32L1005.0,704.13L1010.0,704.94L1026.0,706.90L1033.5,707.75L1043.0,708.40L1058.5,709.03L1080.0,709.73L1102.5,710.29L1131.0,711.08" fill="none" stroke="#9a2635" stroke-width="1.2" stroke-linejoin="round"/>
<path d="M129.0,710.56L153.0,710.31L168.0,709.78L205.5,708.03L215.0,707.37L223.0,706.49L229.0,705.60L235.0,704.40L241.5,702.80L245.5,701.57L249.0,700.23L252.0,698.82L254.5,697.41L257.0,695.69L259.5,693.58L261.5,691.55L263.5,689.15L265.5,686.21L268.0,681.84L271.5,674.99L274.5,668.58L277.0,662.66L279.5,656.06L282.5,647.18L290.0,623.63L316.0,540.11L345.0,445.17L359.0,399.24L375.5,346.46L379.5,334.19L381.5,328.72L384.0,322.73L386.5,317.42L389.0,312.67L392.0,307.60L395.0,303.06L398.0,298.95L401.0,295.32L404.0,292.14L407.0,289.35L410.0,286.91L413.5,284.44L417.5,281.97L424.0,278.43L430.0,275.41L434.5,273.44L440.5,271.19L445.0,269.79L450.0,268.58L456.0,267.45L463.0,266.48L471.5,265.61L481.0,265.01L498.5,264.31L521.5,263.64L552.0,263.24L782.5,263.25L829.5,264.08L877.0,265.26L880.0,265.57L883.5,266.29L886.0,267.02L888.0,267.81L890.0,268.89L892.0,270.25L893.5,271.50L895.0,273.05L896.5,274.98L897.5,276.58L899.0,279.62L900.5,283.40L902.0,288.04L903.0,291.97L903.5,294.48L904.0,297.75L904.5,302.14L907.0,330.39L910.5,366.35L912.5,387.16L921.0,487.73L923.0,509.07L924.5,522.92L926.0,534.44L927.5,543.94L934.0,579.50L937.0,594.57L940.0,608.25L942.5,618.64L945.0,628.09L948.0,638.36L950.5,646.03L953.5,654.37L956.0,660.67L958.5,666.28L961.0,671.19L963.5,675.53L966.0,679.38L969.0,683.49L971.5,686.53L974.0,689.17L976.5,691.40L980.0,694.13L983.5,696.52L986.5,698.27L989.5,699.75L994.0,701.58L998.5,703.10L1002.5,704.16L1006.5,704.92L1013.0,705.74L1026.0,707.18L1033.5,707.96L1043.5,708.57L1069.5,709.49L1105.5,710.40L1131.0,711.08" fill="none" stroke="#9a2635" stroke-width="1.2" stroke-linejoin="round"/>
<path d="M129.0,710.56L153.5,710.32L169.5,709.78L206.5,708.20L216.0,707.58L224.5,706.70L230.5,705.85L237.0,704.61L243.0,703.21L247.0,702.03L250.5,700.73L253.5,699.36L256.0,697.96L258.5,696.25L261.0,694.16L263.0,692.14L265.0,689.70L267.0,686.77L270.0,681.71L273.5,675.28L276.5,669.14L279.0,663.41L281.5,656.99L288.5,637.41L315.0,560.81L334.0,504.90L359.5,429.59L376.0,382.09L380.0,371.08L382.0,366.22L384.5,360.88L387.0,356.14L389.5,351.91L392.5,347.38L396.0,342.67L399.0,339.07L402.0,335.90L405.0,333.12L408.0,330.69L411.5,328.23L415.5,325.82L420.5,323.22L429.0,319.23L433.5,317.38L439.5,315.29L444.5,313.81L449.5,312.68L456.0,311.55L463.0,310.67L472.0,309.83L482.5,309.25L504.0,308.52L525.0,308.02L555.0,307.70L783.0,307.73L832.5,308.53L877.5,309.56L880.5,309.89L884.0,310.58L886.5,311.28L888.5,312.05L890.5,313.09L892.5,314.38L894.0,315.59L895.5,317.08L897.0,318.97L898.0,320.57L899.5,323.52L901.0,327.16L902.0,330.05L903.0,333.59L903.5,335.85L904.0,338.79L904.5,342.74L907.0,368.18L910.5,400.57L912.5,419.30L921.0,509.86L923.0,529.08L924.5,541.55L926.0,551.92L927.5,560.47L934.0,592.50L937.0,606.06L940.0,618.38L942.5,627.74L945.5,637.86L948.0,645.50L950.5,652.41L953.5,659.91L956.0,665.59L958.5,670.64L961.0,675.06L963.5,678.96L966.0,682.44L969.0,686.13L971.5,688.88L974.0,691.25L977.0,693.62L980.5,696.04L984.0,698.14L987.5,699.92L991.0,701.36L996.0,703.07L1000.5,704.31L1004.5,705.12L1010.0,705.86L1032.5,708.09L1042.0,708.65L1058.5,709.21L1082.5,709.88L1101.5,710.31L1131.0,711.08" fill="none" stroke="#9a2635" stroke-width="1.2" stroke-linejoin="round"/>
<path d="M129.0,710.56L154.0,710.33L171.5,709.77L208.5,708.33L217.5,707.77L226.5,706.91L233.0,706.01L240.5,704.63L245.5,703.48L249.5,702.29L253.0,700.99L256.0,699.58L258.5,698.12L261.0,696.33L263.0,694.62L265.0,692.56L267.0,690.06L269.5,686.42L273.5,680.01L276.5,674.66L279.0,669.68L281.5,664.10L287.5,649.31L311.5,587.79L327.0,547.48L360.0,460.88L376.5,418.68L380.5,408.90L382.5,404.58L385.0,399.83L387.5,395.63L390.0,391.86L393.0,387.84L396.5,383.66L399.5,380.46L402.5,377.64L405.5,375.17L408.5,373.01L412.0,370.83L416.0,368.69L421.0,366.38L429.5,362.84L434.5,361.03L441.0,359.05L446.0,357.79L451.5,356.76L458.5,355.76L467.5,354.86L476.5,354.25L492.5,353.65L521.5,352.93L554.5,352.59L783.5,352.62L835.5,353.38L877.5,354.24L880.5,354.53L884.0,355.14L887.0,355.92L889.0,356.66L891.5,357.92L893.5,359.21L895.0,360.45L896.5,361.99L897.5,363.28L899.0,365.71L900.5,368.73L902.0,372.44L903.0,375.59L903.5,377.60L904.0,380.21L904.5,383.72L907.0,406.32L910.5,435.09L912.5,451.74L921.0,532.19L923.0,549.27L924.5,560.35L926.0,569.57L927.5,577.16L934.0,605.61L937.0,617.67L940.0,628.61L943.0,638.49L946.0,647.32L948.5,653.98L951.5,661.13L954.5,667.58L957.0,672.41L959.5,676.67L962.0,680.40L964.5,683.71L967.5,687.21L970.5,690.30L973.0,692.55L975.5,694.45L979.0,696.72L983.0,698.97L986.5,700.63L990.0,701.99L995.0,703.57L999.5,704.73L1004.0,705.60L1009.5,706.28L1033.0,708.35L1044.0,708.89L1080.5,709.88L1101.0,710.31L1131.0,711.08" fill="none" stroke="#9a2635" stroke-width="1.2" stroke-linejoin="round"/>
<path d="M129.0,710.56L155.0,710.32L175.0,709.72L210.0,708.51L219.5,707.97L228.5,707.17L235.5,706.25L243.0,704.98L248.0,703.87L252.0,702.71L255.5,701.42L258.5,700.00L261.0,698.53L263.5,696.72L265.5,694.95L267.5,692.80L270.0,689.66L274.0,684.08L277.0,679.43L279.5,675.12L282.0,670.28L287.5,658.47L309.5,609.22L326.0,571.80L360.5,492.62L377.0,455.71L381.0,447.12L383.0,443.29L385.5,439.10L388.0,435.39L391.0,431.45L394.0,427.97L397.5,424.35L400.5,421.58L403.5,419.16L407.0,416.69L410.5,414.59L414.5,412.55L419.0,410.59L427.0,407.57L433.0,405.52L439.0,403.81L445.0,402.37L450.5,401.38L458.0,400.38L467.0,399.55L476.5,398.96L493.0,398.41L523.0,397.76L556.5,397.48L784.0,397.51L839.0,398.22L877.5,398.93L881.0,399.24L885.0,399.91L888.0,400.69L890.5,401.66L892.5,402.66L894.5,403.97L896.0,405.22L897.5,406.82L899.0,408.95L900.5,411.59L902.0,414.84L903.0,417.59L903.5,419.35L904.0,421.63L904.5,424.70L907.0,444.46L910.5,469.62L912.5,484.18L921.0,554.53L923.0,569.46L924.5,579.15L926.0,587.21L927.5,593.85L934.0,618.73L937.0,629.27L940.0,638.84L943.0,647.48L946.0,655.20L948.5,661.02L951.5,667.27L954.5,672.92L957.0,677.14L959.5,680.86L962.0,684.12L964.5,687.02L967.5,690.08L970.5,692.78L973.0,694.74L975.5,696.41L979.5,698.65L983.5,700.58L987.0,702.00L991.0,703.30L996.5,704.74L1001.5,705.77L1006.5,706.46L1015.0,707.18L1033.5,708.59L1046.0,709.10L1084.5,710.00L1101.5,710.35L1131.0,711.08" fill="none" stroke="#9a2635" stroke-width="1.2" stroke-linejoin="round"/>
<path d="M129.0,710.56L155.0,710.33L178.0,709.69L211.5,708.67L221.5,708.12L230.0,707.42L238.0,706.43L245.0,705.32L250.0,704.24L254.0,703.10L257.0,702.01L260.0,700.61L262.5,699.16L264.5,697.76L266.5,696.05L269.0,693.48L273.0,688.80L276.0,684.94L279.0,680.60L281.5,676.51L286.5,667.38L304.5,632.95L324.0,595.18L360.5,523.46L377.5,490.92L381.0,484.53L383.5,480.55L386.0,477.09L389.0,473.43L392.0,470.22L395.5,466.93L399.0,464.00L402.5,461.46L406.0,459.28L409.5,457.41L413.5,455.60L418.5,453.70L427.0,450.95L433.5,449.06L441.0,447.31L447.0,446.18L454.0,445.25L462.0,444.49L473.0,443.79L487.5,443.29L521.5,442.63L557.5,442.36L784.5,442.40L843.0,443.06L878.0,443.63L882.0,444.00L886.0,444.64L888.5,445.26L891.0,446.15L893.0,447.06L895.0,448.25L896.5,449.41L898.0,450.93L899.5,452.89L901.0,455.31L902.0,457.23L903.0,459.59L903.5,461.09L904.0,463.05L904.5,465.68L907.0,482.60L910.5,504.15L912.5,516.62L921.0,576.86L923.0,589.65L924.5,597.95L926.0,604.85L927.5,610.54L934.0,631.84L937.0,640.87L940.0,649.06L943.0,656.46L946.0,663.08L949.0,669.00L952.0,674.26L955.0,679.00L957.5,682.54L960.0,685.64L963.0,688.87L966.0,691.68L969.5,694.52L972.5,696.63L975.5,698.36L979.5,700.29L984.0,702.13L988.0,703.46L993.0,704.75L998.5,705.89L1003.5,706.65L1010.0,707.27L1034.0,708.82L1048.5,709.29L1089.5,710.12L1109.5,710.57L1131.0,711.08" fill="none" stroke="#9a2635" stroke-width="1.2" stroke-linejoin="round"/>
<path d="M129.0,686.88L161.0,686.32L206.5,684.91L213.5,684.56L225.0,683.66L233.5,682.75L241.0,681.68L247.5,680.42L252.5,679.17L256.0,678.07L259.5,676.65L262.0,675.40L264.5,673.85L266.5,672.36L269.0,670.12L271.5,667.64L275.5,663.87L278.5,660.65L281.0,657.62L284.0,653.49L292.5,640.97L305.0,622.11L312.5,610.62L329.0,583.73L361.5,530.31L378.5,503.10L382.0,497.80L384.5,494.53L387.0,491.68L390.0,488.66L393.0,486.01L396.5,483.28L400.0,480.86L403.5,478.76L407.5,476.72L411.5,475.02L416.0,473.42L422.0,471.65L432.0,469.06L438.5,467.68L445.5,466.46L452.0,465.64L460.5,464.88L472.5,464.19L487.5,463.74L523.5,463.16L561.0,462.95L785.5,462.99L848.5,463.60L878.0,464.01L882.0,464.32L886.0,464.86L889.0,465.51L892.0,466.48L894.0,467.35L896.0,468.50L897.5,469.65L899.0,471.17L900.5,473.06L902.0,475.34L903.0,477.29L903.5,478.53L904.0,480.16L904.5,482.34L907.0,496.44L910.5,514.37L912.5,524.75L921.0,574.93L923.0,585.57L924.5,592.47L926.0,598.21L927.5,602.93L934.0,620.59L937.0,628.06L940.0,634.84L943.0,640.95L946.0,646.41L949.0,651.28L952.0,655.60L955.0,659.50L957.5,662.39L960.0,664.92L963.0,667.52L966.0,669.77L969.5,672.02L972.5,673.68L976.5,675.48L981.0,677.21L985.5,678.65L990.0,679.77L996.5,681.16L1002.0,682.07L1008.0,682.74L1032.0,684.50L1046.0,685.12L1075.0,685.91L1131.0,686.88" fill="none" stroke="#9a2635" stroke-width="1.2" stroke-linejoin="round"/>
<rect x="11.9" y="15" width="3.2" height="212.8" fill="url(#gFrameL)"/>
<rect x="11.9" y="36" width="3.2" height="191.8" fill="url(#gFrameLV)"/>
<rect x="11.9" y="227.8" width="3.5" height="585.2" fill="#0b0b0b"/>
<rect x="15.0" y="36.5" width="1.6" height="191.3" fill="#565656"/>
<rect x="16.6" y="37" width="0.7" height="66.5" fill="#ffffff" opacity="0.9"/>
<rect x="15.3" y="227.8" width="0.5" height="581.2" fill="#3a3a3a"/>
<rect x="16.6" y="108.8" width="0.7" height="119.00000000000001" fill="#b0b0b0"/>
<rect x="15.7" y="227.8" width="1.1" height="578.7" fill="#c4c4c4"/>
<rect x="1186.1" y="36.5" width="2.7" height="191.3" fill="url(#gFrameR)"/>
<rect x="1185.4" y="36.5" width="0.9" height="191.3" fill="#6a6a6a"/>
<rect x="1186.0" y="227.8" width="0.8" height="578.7" fill="#c4c4c4"/>
<rect x="1186.8" y="227.8" width="2.0" height="585.2" fill="#0b0b0b"/>
<rect x="15.8" y="805.8" width="1170.6" height="0.9" fill="#f4f4f4"/>
<rect x="15.8" y="806.6" width="1171" height="3.1" fill="#808080"/>
<rect x="11.9" y="809.6" width="1176.9" height="2.5" fill="#0a0a0a"/>
<rect x="13.5" y="812.1" width="1175.3" height="1.2" fill="#8c8c8c"/>
</svg>
</body>
</html>
